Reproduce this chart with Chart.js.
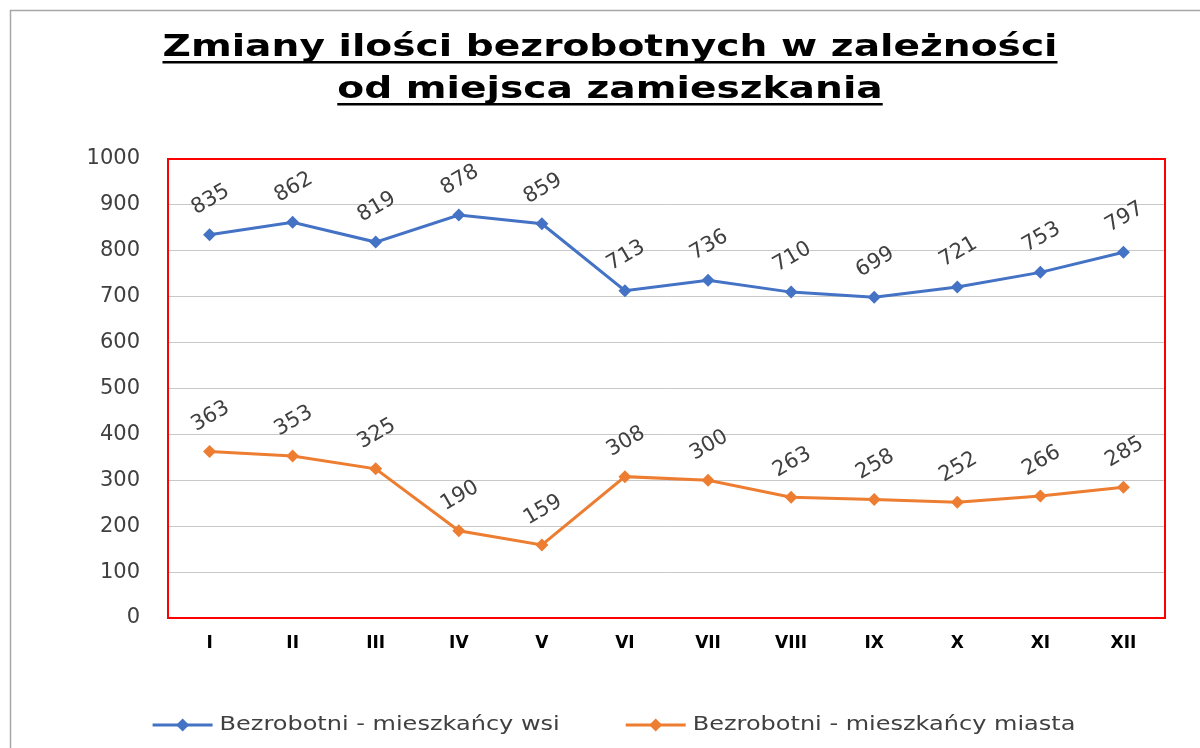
<!DOCTYPE html>
<html>
<head>
<meta charset="utf-8">
<script src="https://cdn.jsdelivr.net/npm/chart.js@4.4.0/dist/chart.umd.min.js"></script>
<style>
  html, body { margin: 0; padding: 0; background: #fff; }
  #wrap { width: 1200px; height: 748px; }
</style>
</head>
<body>
<div id="wrap"><canvas id="chart" width="1200" height="748"></canvas></div>
<script>
// --- DANE ---
const miesiace = ['I', 'II', 'III', 'IV', 'V', 'VI', 'VII', 'VIII', 'IX', 'X', 'XI', 'XII'];
const wsi = [835, 862, 819, 878, 859, 713, 736, 710, 699, 721, 753, 797];
const miasta = [363, 353, 325, 190, 159, 308, 300, 263, 258, 252, 266, 285];
const tytul = ['Zmiany ilości bezrobotnych w zależności', 'od miejsca zamieszkania'];

const NIEBIESKI = '#4472C4';
const POMARANCZ = '#ED7D31';
const TEKST = '#404040';
const FONT = '"DejaVu Sans", Verdana, sans-serif';

// ramka, tytuł, legenda i czerwona obwódka obszaru wykresu
const dekoracje = {
    id: 'dekoracje',
    beforeDraw(chart) {
        const ctx = chart.ctx;
        ctx.save();
        ctx.fillStyle = '#fff';
        ctx.fillRect(0, 0, chart.width, chart.height);
        ctx.strokeStyle = '#a6a6a6';
        ctx.lineWidth = 1.5;
        ctx.beginPath();
        ctx.moveTo(10.5, chart.height); ctx.lineTo(10.5, 10.5); ctx.lineTo(chart.width, 10.5);
        ctx.stroke();
        ctx.restore();
    },
    afterDraw(chart) {
        const ctx = chart.ctx;
        const a = chart.chartArea;
        ctx.save();
        ctx.strokeStyle = '#ff0000';
        ctx.lineWidth = 2;
        ctx.strokeRect(a.left, a.top, a.right - a.left, a.bottom - a.top);

        // tytuł podkreślony
        ctx.font = 'bold 30px ' + FONT;
        ctx.fillStyle = '#000';
        ctx.textAlign = 'center';
        ctx.textBaseline = 'alphabetic';
        const skala = 895 / ctx.measureText(tytul[0]).width;
        const baseY = [56, 98];
        tytul.forEach((linia, i) => {
            const w = ctx.measureText(linia).width * skala;
            ctx.save();
            ctx.translate(610, baseY[i]);
            ctx.scale(skala, 1);
            ctx.fillText(linia, 0, 0);
            ctx.restore();
            ctx.fillRect(610 - w / 2, baseY[i] + 5, w, 2.5);
        });

        // legenda pod wykresem
        const legY = 725;
        const rozciag = 1.2;
        ctx.font = '20px ' + FONT;
        ctx.textAlign = 'left';
        ctx.textBaseline = 'middle';
        const pozycje = chart.data.datasets.map(ds => ctx.measureText(ds.label).width * rozciag);
        const calosc = pozycje.reduce((s, w) => s + 67 + w, 0) + 66;
        let x = 614 - calosc / 2;
        chart.data.datasets.forEach((ds, i) => {
            ctx.strokeStyle = ds.borderColor;
            ctx.fillStyle = ds.borderColor;
            ctx.lineWidth = 3;
            ctx.beginPath(); ctx.moveTo(x, legY); ctx.lineTo(x + 60, legY); ctx.stroke();
            ctx.beginPath();
            ctx.moveTo(x + 30, legY - 6.5); ctx.lineTo(x + 36.5, legY);
            ctx.lineTo(x + 30, legY + 6.5); ctx.lineTo(x + 23.5, legY);
            ctx.closePath(); ctx.fill();
            ctx.save();
            ctx.translate(x + 67, legY);
            ctx.scale(rozciag, 1);
            ctx.fillStyle = TEKST;
            ctx.fillText(ds.label, 0, 0);
            ctx.restore();
            x += 67 + pozycje[i] + 66;
        });
        ctx.restore();
    },
    afterDatasetsDraw(chart) {
        // etykiety wartości, obrócone
        const ctx = chart.ctx;
        ctx.save();
        ctx.font = '21px ' + FONT;
        ctx.fillStyle = TEKST;
        ctx.textAlign = 'center';
        ctx.textBaseline = 'middle';
        chart.data.datasets.forEach((ds, di) => {
            chart.getDatasetMeta(di).data.forEach((pt, i) => {
                ctx.save();
                ctx.translate(pt.x + 1, pt.y - 35);
                ctx.rotate(-30 * Math.PI / 180);
                ctx.fillText(String(ds.data[i]), 0, 0);
                ctx.restore();
            });
        });
        ctx.restore();
    }
};

new Chart(document.getElementById('chart').getContext('2d'), {
    type: 'line',
    data: {
        labels: miesiace,
        datasets: [
            {
                label: 'Bezrobotni - mieszkańcy wsi',
                data: wsi,
                borderColor: NIEBIESKI,
                backgroundColor: NIEBIESKI,
                borderWidth: 3,
                pointStyle: 'rectRot',
                pointRadius: 6.5,
                pointBorderWidth: 0,
                tension: 0
            },
            {
                label: 'Bezrobotni - mieszkańcy miasta',
                data: miasta,
                borderColor: POMARANCZ,
                backgroundColor: POMARANCZ,
                borderWidth: 3,
                pointStyle: 'rectRot',
                pointRadius: 6.5,
                pointBorderWidth: 0,
                tension: 0
            }
        ]
    },
    options: {
        responsive: false,
        animation: false,
        devicePixelRatio: 1,
        layout: { padding: { top: 159, left: 63, right: 35, bottom: 88 } },
        scales: {
            x: {
                offset: true,
                grid: { display: false, drawTicks: false },
                border: { display: false },
                ticks: { color: '#000', padding: 15, font: { family: FONT, size: 17, weight: 'bold' } },
                afterFit(scale) { scale.height = 42; }
            },
            y: {
                min: 0,
                max: 1000,
                grid: { color: '#c8c8c8', lineWidth: 1, drawTicks: false },
                border: { display: false },
                ticks: {
                    stepSize: 100,
                    color: TEKST,
                    padding: 28,
                    font: { family: FONT, size: 21 },
                    callback: (v) => String(v)
                },
                afterFit(scale) { scale.width = 105; }
            }
        },
        plugins: {
            title: { display: false },
            tooltip: { enabled: false },
            legend: { display: false }
        }
    },
    plugins: [dekoracje]
});
</script>
</body>
</html>
